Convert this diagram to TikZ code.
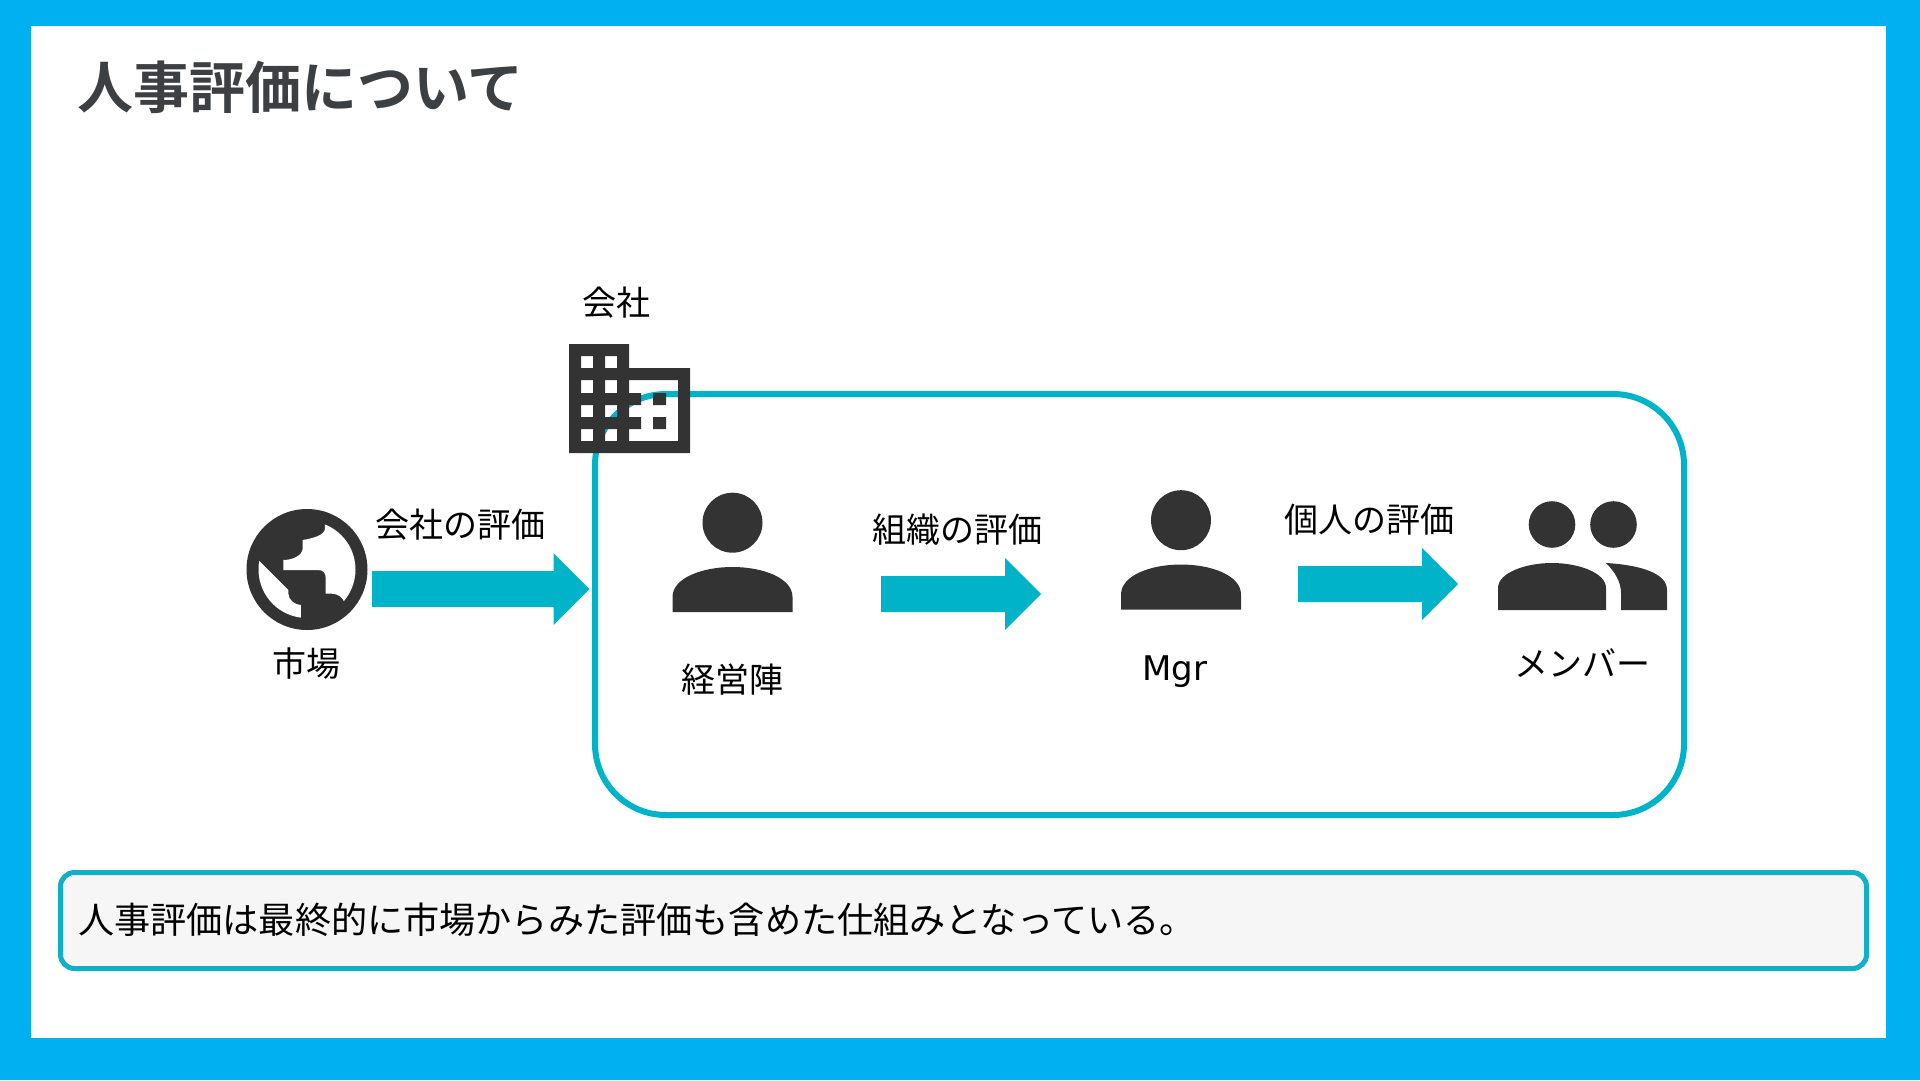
\documentclass[tikz,border=0pt]{standalone}
\usepackage{fontspec}
\setmainfont{Noto Sans CJK JP}[BoldFont={Noto Sans CJK JP Bold}]
\newfontfamily\latinfont{DejaVu Sans}
\definecolor{framecol}{HTML}{00B0F0}
\definecolor{tealcol}{HTML}{00B3C9}
\definecolor{notebordercol}{HTML}{12B0C8}
\definecolor{iconcol}{HTML}{333333}
\definecolor{titlecol}{HTML}{3C4043}
\definecolor{notecol}{HTML}{F6F6F6}
\tikzset{
  lbl/.style={font=\fontsize{34}{40}\selectfont,text=black,inner sep=0pt,anchor=center},
  icon/.style={fill=iconcol,draw=none},
  blockarrow/.style={fill=tealcol,draw=none},
}
\newcommand{\myarrow}[3]{% x0, xtip, ycentre
  \fill[blockarrow] (#1,#3-18) -- (#2-36,#3-18) -- (#2-36,#3-36) -- (#2,#3) -- (#2-36,#3+36) -- (#2-36,#3+18) -- (#1,#3+18) -- cycle;}
\newcommand{\myperson}[2]{% dx, dy
  \begin{scope}[shift={(#1,#2)}]
    \fill[icon] (732.5,522.7) circle (30);
    \fill[icon] (672.5,612) -- (672.5,597) .. controls (672.5,578) and (702,567) .. (732.5,567) .. controls (763,567) and (792.5,578) .. (792.5,597) -- (792.5,612) -- cycle;
  \end{scope}}
\begin{document}
\begin{tikzpicture}[x=1pt,y=-1pt]
\useasboundingbox (0,0) rectangle (1920,1080);
% frame
\fill[framecol] (0,0) rectangle (1920,1080);
\fill[white] (31,26) rectangle (1886,1037.5);
% title
\node[inner sep=0pt,anchor=west,text=titlecol,font=\fontsize{56}{64}\selectfont\bfseries] (title) at (77,87.5) {人事評価について};
% company box
\draw[tealcol,line width=6pt,rounded corners=71pt] (595,394) rectangle (1684,815);
% building
\fill[icon,even odd rule] (569,344) -- (629,344) -- (629,368) -- (690,368) -- (690,453) -- (569,453) -- cycle
  (581,356) rectangle (593,368) (605,356) rectangle (617,368)
  (581,380) rectangle (593,393) (605,380) rectangle (617,393)
  (581,405) rectangle (593,417) (605,405) rectangle (617,417)
  (581,429) rectangle (593,441) (605,429) rectangle (617,441)
  (629,380) -- (678,380) -- (678,441) -- (629,441) -- (629,429) -- (641,429) -- (641,417) -- (629,417) -- (629,405) -- (641,405) -- (641,393) -- (629,393) -- cycle;
\fill[icon] (653,393) rectangle (666,405) (653,417) rectangle (666,429);
\node[lbl] (company) at (616.5,303) {会社};
% globe
\fill[icon] (307,569.5) circle (60.5);
\begin{scope}
  \clip (307,569.5) circle (48.5);
  \begin{scope}[shift={(230,490)},x=0.3333pt,y=-0.3333pt]
    \fill[white] (285,60) -- (285,115) .. controls (285,135) and (250,145) .. (218,150) -- (218,175) .. controls (218,195) and (190,210) .. (160,210) -- (160,240) -- (265,240) .. controls (280,240) and (287,250) .. (287,262) -- (287,311) -- (305,311) .. controls (325,311) and (340,325) .. (342,335) -- (420,420) -- (420,60) -- cycle;
    \fill[white] (80,205) -- (175,300) -- (175,310) .. controls (175,330) and (195,345) .. (213,345) -- (213,420) -- (60,420) -- cycle;
  \end{scope}
\end{scope}
\node[lbl] (market) at (306.5,664) {市場};
% arrows
\myarrow{372}{589.5}{589}
\node[lbl] (l1) at (460.5,525) {会社の評価};
\myarrow{881}{1041}{594}
\node[lbl] (l2) at (957,530) {組織の評価};
\myarrow{1298}{1458}{584}
\node[lbl] (l3) at (1369,520) {個人の評価};
% persons
\myperson{0}{0}
\node[lbl] (exec) at (732.5,680) {経営陣};
\myperson{448.5}{-2.5}
\node[lbl,font=\fontsize{34}{40}\selectfont\latinfont] (mgr) at (1175,671.5) {Mgr};
% members
\fill[icon] (1552,524.5) circle (23.3) (1613.5,524.5) circle (23.3);
\fill[icon] (1498,610) -- (1498,588) .. controls (1498,573) and (1525,563) .. (1552,563) .. controls (1579,563) and (1606,573) .. (1606,588) -- (1606,610) -- cycle;
\fill[icon] (1606,563) .. controls (1640,565) and (1667,573) .. (1667,590) -- (1667,610) -- (1621,610) -- (1621,593) .. controls (1621,582) and (1615,572) .. (1606,563) -- cycle;
\node[lbl] (members) at (1582.5,663) {メンバー};
% note
\node[draw=notebordercol,line width=5pt,fill=notecol,rounded corners=14pt,minimum width=1806pt,minimum height=96pt,inner sep=0pt,anchor=center] (notebox) at (963.5,920.5) {};
\node[inner sep=0pt,anchor=west,text=black,font=\fontsize{36.15}{42}\selectfont] (note) at (78,920) {人事評価は最終的に市場からみた評価も含めた仕組みとなっている。};
\end{tikzpicture}
\end{document}
